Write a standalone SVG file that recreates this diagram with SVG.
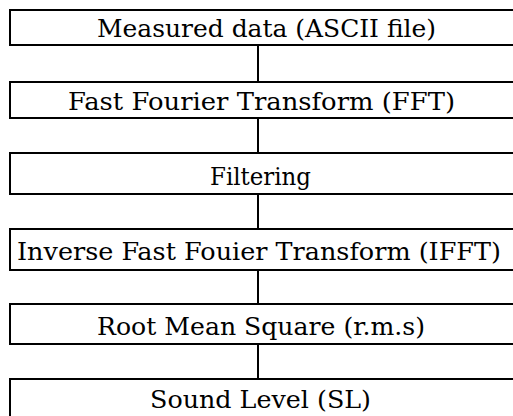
<svg xmlns="http://www.w3.org/2000/svg" width="513" height="416" viewBox="0 0 513 416">
<style>
.box{fill:#fff;stroke:#000;stroke-width:2}
.lbl{font-family:"DejaVu Serif","Liberation Serif",serif;font-size:25px;fill:#000;text-anchor:middle}
.conn{stroke:#000;stroke-width:2;fill:none}
</style>
<rect width="513" height="416" fill="#fff"/>
<g id="connectors">
<line class="conn" x1="258" y1="45" x2="258" y2="82"/>
<line class="conn" x1="258" y1="118" x2="258" y2="153"/>
<line class="conn" x1="258" y1="194" x2="258" y2="229"/>
<line class="conn" x1="258" y1="270" x2="258" y2="304"/>
<line class="conn" x1="258" y1="344" x2="258" y2="379"/>
</g>
<g id="measured">
<rect class="box" x="10" y="10" width="520" height="35"/>
<text class="lbl" x="266.5" y="37" textLength="339" lengthAdjust="spacingAndGlyphs">Measured data (ASCII file)</text>
</g>
<g id="fft">
<rect class="box" x="10" y="82" width="520" height="36"/>
<text class="lbl" x="261.5" y="110" textLength="387" lengthAdjust="spacingAndGlyphs">Fast Fourier Transform (FFT)</text>
</g>
<g id="filtering">
<rect class="box" x="10" y="153" width="520" height="41"/>
<text class="lbl" x="260.5" y="185" textLength="101" lengthAdjust="spacingAndGlyphs">Filtering</text>
</g>
<g id="ifft">
<rect class="box" x="10" y="229" width="520" height="41"/>
<text class="lbl" x="259" y="260" textLength="484" lengthAdjust="spacingAndGlyphs">Inverse Fast Fouier Transform (IFFT)</text>
</g>
<g id="rms">
<rect class="box" x="10" y="304" width="520" height="40"/>
<text class="lbl" x="261" y="335" textLength="328" lengthAdjust="spacingAndGlyphs">Root Mean Square (r.m.s)</text>
</g>
<g id="sl">
<rect class="box" x="10" y="379" width="520" height="60"/>
<text class="lbl" x="260.5" y="408" textLength="221" lengthAdjust="spacingAndGlyphs">Sound Level (SL)</text>
</g>
</svg>
